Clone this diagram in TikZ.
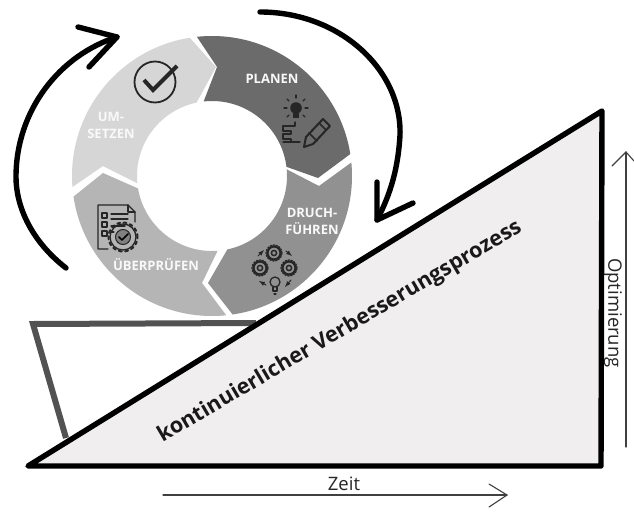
\documentclass[tikz,border=0pt]{standalone}
\usepackage{fontspec}
\setmainfont{Open Sans}
\definecolor{triFill}{HTML}{F0EEEF}
\begin{document}
\begin{tikzpicture}[x=1pt,y=-1pt,
  seglabel/.style={text=white!95!gray,font=\bfseries\fontsize{13}{14}\selectfont,inner sep=0pt,align=center},
  bigarrow/.style={line width=5.4pt,line cap=round,line join=round,black},
  axisline/.style={line width=1.1pt,color=black!75,line cap=round,line join=round},
  icon/.style={line width=1.3pt,color=black!85,line cap=round,line join=round},
  axislabel/.style={text=black!85,font=\fontsize{18.5}{20}\selectfont,inner sep=0pt}]
\useasboundingbox (0,0) rectangle (634,511);
\fill[white] (0,0) rectangle (634,511);
% ring
\begin{scope}[even odd rule]
\clip (212,176) circle[radius=140pt] (212,176) circle[radius=75pt];
\fill[black!58!white] (187,22)--(217,67)--(193,129)--(256,156)--(318,178)--(380,132)--(380,10)--cycle;
\fill[black!43!white] (385,138)--(319,186)--(257,154)--(246,217)--(208,283)--(258,347)--(400,347)--cycle;
\fill[black!29!white] (250,347)--(202,283)--(232,221)--(171,203)--(103,173)--(43,221)--(43,347)--cycle;
\fill[black!16!white] (39,210)--(103,166)--(171,200)--(180,133)--(216,67)--(164,9)--(39,9)--cycle;
\end{scope}
\node[seglabel] (planen) at (272,79) {PLANEN};
\node[seglabel] (umsetzen) at (111,125) {UM-\\[3pt]SETZEN};
\node[seglabel] (durch) at (312,221) {DRUCH-\\[3pt]FÜHREN};
\node[seglabel] (pruefen) at (156,265) {ÜBERPRÜFEN};
% check icon
\draw[line width=1.8pt,black!85] (155,82) circle[radius=20.5pt];
\draw[line width=4pt,black!85,line join=miter] (144,80)--(153,90)--(177,66);
% bulb + pencil icon
\begin{scope}[icon]
\fill[black!85] (296,108) circle[radius=5.8pt];
\fill[black!85] (293,112) rectangle (299,118);
\foreach \a/\b/\c/\d in {296/95/296/98, 284/108/287/108, 305/108/308/108, 287/99/289/101, 305/99/303/101, 287/117/289/115, 305/117/303/115}
  \draw (\a,\b)--(\c,\d);
\draw (295,122)--(295,126)--(283,126)--(283,131)--(291,131)--(291,134)--(283,134)--(283,139)--(291,139)--(291,142)--(283,142) (283,142)--(300,142);
\draw[line width=2pt] (306,137)--(323,119)--(330,126)--(313,144)--(304,147)--cycle;
\draw[line width=1.5pt] (309,133)--(317,141) (319,123)--(326,130);
\end{scope}
% gears icon
\begin{scope}[icon]
\foreach \x/\y in {274/253, 260/268, 289/268}{
  \draw[line width=2.2pt] (\x,\y) circle[radius=6.5pt];
  \draw[line width=1.5pt] (\x,\y) circle[radius=2.6pt];
  \draw[line width=1.2pt,dash pattern=on 1.5pt off 1.5pt] (\x,\y) circle[radius=8pt];
}
\draw (275,282) circle[radius=5pt];
\draw (273,287)--(273,291)--(277,291)--(277,287) (274,294)--(276,294);
\draw[-latex,line width=1pt] (258,256)--(264,250);
\draw[-latex,line width=1pt] (286,251)--(292,256);
\draw[-latex,line width=1pt] (291,280)--(285,287);
\draw[-latex,line width=1pt] (266,285)--(259,281);
\end{scope}
% document icon
\begin{scope}[icon]
\draw (108,249)--(98,249)--(98,205)--(128,205)--(135,212)--(135,222);
\draw (128,205)--(128,212)--(135,212);
\foreach \y in {216,225,234}{
  \draw[line width=1.2pt] (102,\y-3) rectangle (107,\y+2);
}
\draw (111,214)--(128,214) (111,219)--(128,219) (111,226)--(125,226) (111,232)--(114,232);
\draw[line width=1.3pt] (123,237) circle[radius=13pt];
\draw[line width=2pt,dash pattern=on 3pt off 3.4pt] (123,237) circle[radius=14.5pt];
\fill[black!50] (123,237) circle[radius=7.5pt];
\draw[line width=1pt] (123,237) circle[radius=7.5pt];
\draw[line width=1.5pt,black] (119,237)--(122,240)--(128,234);
\end{scope}
% wedge
\coordinate (wa) at (33,324);
\coordinate (wb) at (256,323);
\coordinate (wc) at (66,438);
\draw[line width=6pt,color=black!68,fill=white,line join=miter] (wb)--(wa)--(wc);
% triangle
\coordinate (ta) at (28,466);
\coordinate (tb) at (602,111);
\coordinate (tc) at (601,466);
\draw[line width=5.4pt,line join=round,fill=triFill] (ta)--(tb)--(tc)--cycle;
\node[rotate=30.4,inner sep=0pt,font=\bfseries\fontsize{21.5}{23}\selectfont,text=black!90] (title) at (340,332) {kontinuierlicher Verbesserungsprozess};
% cycle arrows
\coordinate (la) at (66,268);
\coordinate (lb) at (117,37);
\coordinate (ra) at (260,12);
\coordinate (rb) at (377,220);
\draw[bigarrow] (la) .. controls (30,240) and (16,205) .. (16,177) .. controls (16,110) and (60,55) .. (lb);
\draw[bigarrow] (78,27)--(lb)--(89,67);
\draw[bigarrow] (ra) .. controls (340,12) and (402,70) .. (400,135) .. controls (398,170) and (390,195) .. (rb);
\draw[bigarrow] (377,182)--(rb)--(413,203);
% axes
\coordinate (xa) at (163,495);
\coordinate (xb) at (507,495);
\coordinate (ya) at (626,447);
\coordinate (yb) at (626,152);
\draw[axisline] (xa)--(xb);
\draw[axisline] (489,484)--(xb)--(489,507);
\draw[axisline] (ya)--(yb);
\draw[axisline] (612,166)--(yb)--(634,161);
\node[axislabel] (zeit) at (344,484) {Zeit};
\node[axislabel,rotate=-90] (opt) at (613,313) {Optimierung};
\end{tikzpicture}
\end{document}
